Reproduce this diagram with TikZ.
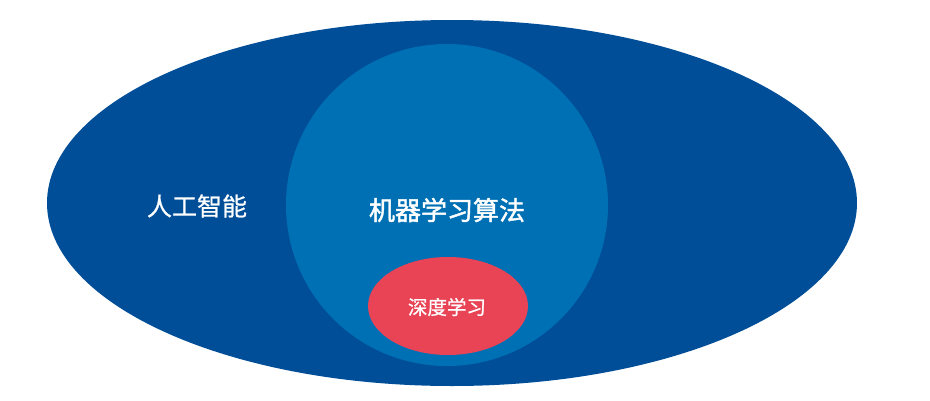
\documentclass[tikz,border=0pt]{standalone}
\usepackage{fontspec}
\newfontfamily\cjk[FakeBold=0.8]{Noto Sans CJK SC}
\newfontfamily\cjkb[FakeBold=1.6]{Noto Sans CJK SC}
\definecolor{aiblue}{HTML}{004E98}
\definecolor{mlblue}{HTML}{0070B5}
\definecolor{dlred}{HTML}{E94455}
\begin{document}
\begin{tikzpicture}[x=1pt,y=-1pt,
  lbl/.style={text=white,font=\cjk\fontsize{25}{30}\selectfont,inner sep=0pt}]
\useasboundingbox (0,0) rectangle (930,400);
\fill[aiblue] (452,203) ellipse [x radius=405, y radius=183];
\fill[mlblue] (447,205) circle [radius=161];
\fill[dlred] (448,306) ellipse [x radius=80, y radius=49];
\node[lbl] (ai) at (197,206) {人工智能};
\node[lbl,font=\cjkb\fontsize{26}{30}\selectfont] (ml) at (447,210) {机器学习算法};
\node[lbl,font=\cjk\fontsize{19.5}{24}\selectfont] (dl) at (447,307) {深度学习};
\end{tikzpicture}
\end{document}
